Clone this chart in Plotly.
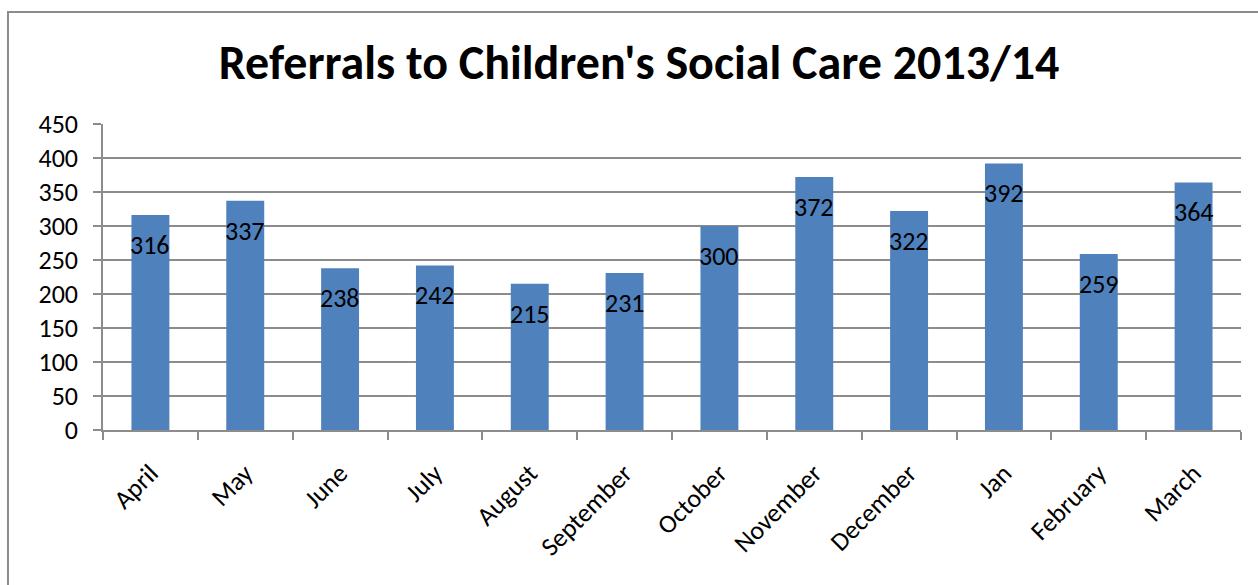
import plotly.graph_objects as go

months = ["April", "May", "June", "July", "August", "September", "October",
          "November", "December", "Jan", "February", "March"]
referrals = [316, 337, 238, 242, 215, 231, 300, 372, 322, 392, 259, 364]
y_ticks = [0, 50, 100, 150, 200, 250, 300, 350, 400, 450]
title_text = "Referrals to Children's Social Care 2013/14"

FONT = "Carlito, Open Sans, sans-serif"
GRID = "#8c8c8c"

fig = go.Figure(go.Bar(
    x=months, y=referrals,
    marker=dict(color="#4f81bd", line=dict(width=0)),
    hoverinfo="x+y",
))

for m, v in zip(months, referrals):
    fig.add_annotation(x=m, y=v, text=str(v), showarrow=False, yshift=-30,
                       font=dict(family=FONT, size=26, color="black"))

fig.update_layout(
    width=1258, height=585,
    margin=dict(l=103, r=17, t=124, b=155),
    paper_bgcolor="white", plot_bgcolor="white",
    bargap=0.6,
    showlegend=False,
    title=dict(text="<b>" + title_text + "</b>", x=0.508, xanchor="center",
               y=0.893, yanchor="middle",
               font=dict(family=FONT, size=48, color="black")),
    xaxis=dict(type="category", showgrid=False, showline=True, linecolor=GRID,
               linewidth=1.5, ticks="outside", tickson="boundaries", ticklen=8,
               tickcolor=GRID, tickwidth=1.5, tickangle=-45,
               ticklabelstandoff=16,
               tickfont=dict(family=FONT, size=26, color="black")),
    yaxis=dict(range=[0, 450], tickvals=y_ticks, showgrid=True, gridcolor=GRID,
               gridwidth=1.5, showline=True, linecolor=GRID, linewidth=1.5,
               ticks="outside", ticklen=8, tickcolor=GRID, tickwidth=1.5,
               zeroline=False, ticklabelstandoff=10,
               tickfont=dict(family=FONT, size=26, color="black")),
    shapes=[dict(type="rect", xref="paper", yref="paper",
                 x0=-0.0835, x1=1.2, y0=-1.0, y1=1.366,
                 line=dict(color="#8c8c8c", width=2), fillcolor="rgba(0,0,0,0)",
                 layer="below")],
)

fig.write_html("out.html")
